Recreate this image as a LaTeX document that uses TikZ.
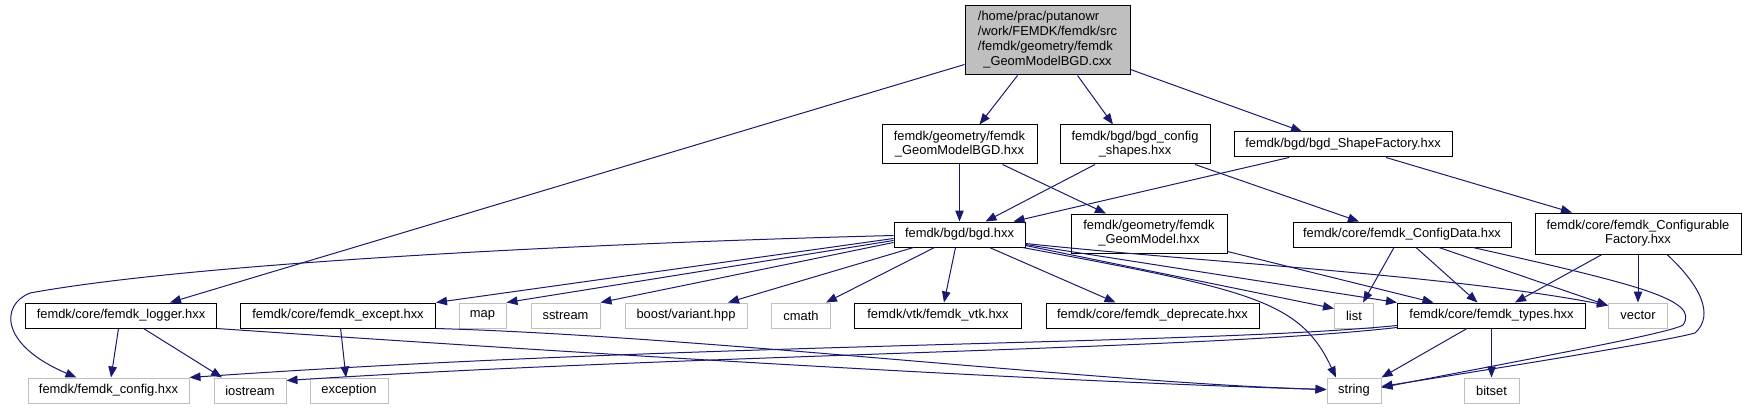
\documentclass[tikz,border=0pt]{standalone}
\usepackage{fontspec}
\setmainfont{Liberation Sans}
\usetikzlibrary{arrows.meta}
\definecolor{incblue}{RGB}{25,25,112}
\definecolor{incgrey}{RGB}{191,191,191}

\begin{document}
\begin{tikzpicture}[x=1pt, y=-1pt,
    hfile/.style={draw=black, line width=1pt, fill=white, inner sep=0pt, minimum height=25pt, align=center, font=\fontsize{12.9}{14}\selectfont},
    hfile2/.style={hfile, minimum height=39pt},
    sysfile/.style={hfile, draw=incgrey},
    srcfile/.style={hfile, fill=incgrey, minimum height=69pt, font=\fontsize{12.9}{15}\selectfont},
    inc/.style={draw=incblue, line width=1pt, -{Triangle[length=11pt,width=8.5pt]}},
]
    \useasboundingbox (0,0) rectangle (1746,409);

    % Row 1
    \node[srcfile, minimum width=165pt] (root) at (1047.5,40.5) {\begin{tabular}{@{}l@{}}/home/prac/putanowr\\/work/FEMDK/femdk/src\\/femdk/geometry/femdk\\\multicolumn{1}{@{}c@{}}{\_GeomModelBGD.cxx}\end{tabular}};

    % Row 2
    \node[hfile2, minimum width=155pt] (gmbgd) at (959.5,144.5) {femdk/geometry/femdk\\\_GeomModelBGD.hxx};
    \node[hfile2, minimum width=150pt] (shapes) at (1135,144.5) {femdk/bgd/bgd\_config\\\_shapes.hxx};
    \node[hfile, minimum width=218pt] (sfactory) at (1343,144.5) {femdk/bgd/bgd\_ShapeFactory.hxx};

    % Row 3
    \node[hfile, minimum width=131pt] (bgd) at (959.5,234.5) {femdk/bgd/bgd.hxx};
    \node[hfile2, minimum width=156pt] (gmodel) at (1149,233.5) {femdk/geometry/femdk\\\_GeomModel.hxx};
    \node[hfile, minimum width=218pt] (cdata) at (1402,234.5) {femdk/core/femdk\_ConfigData.hxx};
    \node[hfile2, minimum width=206pt, minimum height=41pt] (cfactory) at (1638,233.5) {femdk/core/femdk\_Configurable\\Factory.hxx};

    % Row 4
    \node[hfile, minimum width=191pt] (logger) at (121,315.5) {femdk/core/femdk\_logger.hxx};
    \node[hfile, minimum width=195pt] (except) at (338,315.5) {femdk/core/femdk\_except.hxx};
    \node[sysfile, minimum width=47pt] (map) at (482.5,315.5) {map};
    \node[sysfile, minimum width=69pt] (sstream) at (565.5,315.5) {sstream};
    \node[sysfile, minimum width=122pt] (variant) at (686,315.5) {boost/variant.hpp};
    \node[sysfile, minimum width=59pt] (cmath) at (801,315.5) {cmath};
    \node[hfile, minimum width=167pt] (vtk) at (938,315.5) {femdk/vtk/femdk\_vtk.hxx};
    \node[hfile, minimum width=213pt] (deprec) at (1152.5,315.5) {femdk/core/femdk\_deprecate.hxx};
    \node[sysfile, minimum width=39pt] (list) at (1354,315.5) {list};
    \node[hfile, minimum width=188pt] (types) at (1491.5,315.5) {femdk/core/femdk\_types.hxx};
    \node[sysfile, minimum width=59pt] (vector) at (1638,315.5) {vector};

    % Row 5
    \node[sysfile, minimum width=161pt] (config) at (108.5,390.5) {femdk/femdk\_config.hxx};
    \node[sysfile, minimum width=72pt] (iostream) at (250,390.5) {iostream};
    \node[sysfile, minimum width=78pt] (exception) at (349,390.5) {exception};
    \node[sysfile, minimum width=54pt] (string) at (1354,390.5) {string};
    \node[sysfile, minimum width=55pt] (bitset) at (1491.5,390.5) {bitset};

    % root includes
    \draw[inc] ([yshift=-24pt]root.west) -- ([xshift=49pt]logger.north);
    \draw[inc] ([xshift=-30pt]root.south) -- ([xshift=20pt]gmbgd.north);
    \draw[inc] ([xshift=30pt]root.south) -- ([xshift=-22pt]shapes.north);
    \draw[inc] ([yshift=-29pt]root.east) -- ([xshift=-41pt]sfactory.north);

    % second row
    \draw[inc] (gmbgd.south) -- (bgd.north);
    \draw[inc] ([xshift=43pt]gmbgd.south) -- ([xshift=-43pt]gmodel.north);
    \draw[inc] ([xshift=-40pt]shapes.south) -- ([xshift=26pt]bgd.north);
    \draw[inc] ([xshift=60pt]shapes.south) -- ([xshift=-43pt]cdata.north);
    \draw[inc] ([xshift=-54pt]sfactory.south) -- ([xshift=54pt]bgd.north);
    \draw[inc] ([xshift=43pt]sfactory.south) -- ([xshift=-66pt]cfactory.north);

    % bgd.hxx
    \draw[inc] ([yshift=-1pt]bgd.west) .. controls (600,243) and (200,262) .. (30,293) .. controls (0,305) and (0,345) .. ([xshift=-32pt]config.north);
    \draw[inc] ([yshift=-4pt]bgd.west) -- (except.north east);
    \draw[inc] ([yshift=-6pt]bgd.west) -- (map.north east);
    \draw[inc] ([yshift=-8pt]bgd.west) -- (sstream.north east);
    \draw[inc] ([xshift=-46pt]bgd.south) -- ([xshift=42pt]variant.north);
    \draw[inc] ([xshift=-25pt]bgd.south) -- ([xshift=25pt]cmath.north);
    \draw[inc] ([xshift=-4pt]bgd.south) -- ([xshift=6pt]vtk.north);
    \draw[inc] ([xshift=30pt]bgd.south) -- ([xshift=-37pt]deprec.north);
    \draw[inc] ([yshift=-11pt]bgd.east) -- ([yshift=7pt]list.west);
    \draw[inc] ([yshift=-10pt]bgd.east) -- (types.north west);
    \draw[inc] ([yshift=-9pt]bgd.east) .. controls (1200,262) and (1450,275) .. ([yshift=10pt]vector.west);
    \draw[inc] ([xshift=-3pt]bgd.south east) .. controls (1250,290) and (1300,300) .. ([xshift=-18pt]string.north);

    % third row
    \draw[inc] ([yshift=2pt]gmodel.south east) -- ([xshift=-58pt]types.north);
    \draw[inc] ([xshift=-8pt]cdata.south) -- ([xshift=9pt]list.north);
    \draw[inc] ([xshift=14pt]cdata.south) -- ([xshift=-14pt]types.north);
    \draw[inc] ([xshift=37pt]cdata.south) -- ([yshift=10pt]vector.west);
    \draw[inc] ([xshift=71pt]cdata.south) .. controls (1640,285) and (1700,300) .. (1683,325) .. controls (1670,333) and (1550,355) .. ([yshift=3pt]string.east);
    \draw[inc] ([xshift=-36pt]cfactory.south) -- ([xshift=23.5pt]types.north);
    \draw[inc] (cfactory.south) -- (vector.north);
    \draw[inc] ([xshift=29pt]cfactory.south) .. controls (1700,285) and (1715,315) .. (1695,333) .. controls (1670,340) and (1550,360) .. ([yshift=4pt]string.east);

    % fourth row
    \draw[inc] ([xshift=-2.5pt]logger.south) -- ([xshift=2.5pt]config.north);
    \draw[inc] ([xshift=22.5pt]logger.south) -- ([xshift=-28pt]iostream.north);
    \draw[inc] (logger.south east) .. controls (500,348) and (1000,380) .. ([yshift=1pt]string.west);
    \draw[inc] ([xshift=2.6pt]except.south) -- ([xshift=-3pt]exception.north);
    \draw[inc] (except.south east) .. controls (700,336) and (1100,383) .. ([yshift=1pt]string.west);
    \draw[inc] ([yshift=-10pt]types.west) .. controls (1200,345) and (700,342) .. ([yshift=13pt]config.east);
    \draw[inc] ([yshift=-12pt]types.west) .. controls (1200,350) and (700,354) .. ([yshift=10pt]iostream.east);
    \draw[inc] ([xshift=-24.5pt]types.south) -- (string.north east);
    \draw[inc] (types.south) -- (bitset.north);
\end{tikzpicture}
\end{document}
